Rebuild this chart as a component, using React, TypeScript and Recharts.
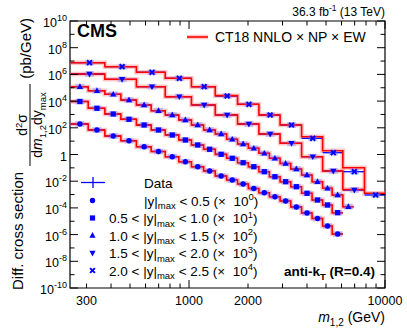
import React from 'react';
import { ComposedChart, Line, Scatter, XAxis, YAxis, ErrorBar, ReferenceArea } from 'recharts';

const FONT = '"Liberation Sans", Arial, Helvetica, sans-serif';
const W = 407;
const H = 331;
const PLOT = { left: 70, top: 21, right: 385, bottom: 288 };

// dijet mass bin edges (GeV)
const FINE_EDGES = [249, 306, 372, 449, 539, 641, 756, 887, 1029, 1187, 1361, 1556, 1769, 2008, 2273, 2572, 2915, 3306, 3754, 4244, 4805, 5374, 6094, 6908];
const WIDE_EDGES = [249, 372, 539, 756, 1029, 1361, 1769, 2273, 2915, 3754, 4805, 6094, 7861, 10050];

// |y|max < 0.5 (x 10^0)
const DATA_Y0 = [193, 68.4, 24.3, 10.8, 3.84, 1.68, 0.684, 0.289, 0.122, 0.058, 0.0245, 0.0123, 0.0062, 0.00284, 0.00138, 6.9e-4, 3.29e-4, 1.17e-4, 4.15e-5, 1.61e-5, 4.4e-6, 1.11e-6];
const THEORY_Y0 = [193, 68.4, 24.3, 10.8, 3.84, 1.68, 0.684, 0.289, 0.122, 0.058, 0.0245, 0.0123, 0.0062, 0.00284, 0.00138, 6.9e-4, 3.29e-4, 1.17e-4, 4.15e-5, 1.61e-5, 4.4e-6, 1.11e-6];
// 0.5 < |y|max < 1.0 (x 10^1)
const DATA_Y1 = [9330, 2890, 1080, 434, 162, 68.4, 28.9, 12.2, 5.15, 2.45, 1.03, 0.519, 0.243, 0.122, 0.0515, 0.0217, 0.00918, 0.00387, 0.00124, 3.91e-4, 1.65e-4, 4.37e-5];
const THEORY_Y1 = [9330, 2890, 1080, 434, 162, 68.4, 28.9, 12.2, 5.15, 2.45, 1.03, 0.519, 0.243, 0.122, 0.0515, 0.0217, 0.00918, 0.00387, 0.00124, 3.91e-4, 1.65e-4, 4.37e-5];
// 1.0 < |y|max < 1.5 (x 10^2)
const DATA_Y2 = [120000, 60100, 32300, 12100, 5100, 1910, 910, 384, 162, 68.4, 34.4, 13.8, 6.12, 2.91, 1.23, 0.519, 0.212, 0.082, 0.0291, 0.00918, 0.00294, 9.25e-4, 1.23e-4];
const THEORY_Y2 = [120000, 60100, 32300, 12100, 5100, 1910, 910, 384, 162, 68.4, 34.4, 13.8, 6.12, 2.91, 1.23, 0.519, 0.212, 0.082, 0.0291, 0.00918, 0.00294, 9.25e-4, 1.23e-4];
// 1.5 < |y|max < 2.0 (x 10^3)
const DATA_Y3 = [1.07e6, 4.3e5, 1.2e5, 21400, 5100, 910, 193, 34.4, 6.9, 0.684, 0.058, 0.00219];
const THEORY_Y3 = [1.07e6, 4.3e5, 1.2e5, 21400, 5100, 910, 193, 34.4, 6.9, 0.684, 0.058, 0.0024];
// 2.0 < |y|max < 2.5 (x 10^4)
const DATA_Y4 = [7.52e6, 3.78e6, 1.44e6, 5.1e5, 1.2e5, 24100, 5750, 910, 162, 16.3, 1.36, 0.0515, 9.25e-4];
const THEORY_Y4 = [7.52e6, 3.78e6, 1.44e6, 5.1e5, 1.2e5, 25500, 5750, 910, 162, 21.5, 1.93, 0.1026, 1.24e-3];

const X_TICKS = [300, 400, 500, 600, 700, 800, 900, 1000, 2000, 3000, 4000, 5000, 6000, 7000, 8000, 9000, 10000];
const X_LABELS: Record<number, string> = { 300: '300', 1000: '1000', 2000: '2000', 10000: '10000' };
const Y_EXPONENTS = [-10, -9, -8, -7, -6, -5, -4, -3, -2, -1, 0, 1, 2, 3, 4, 5, 6, 7, 8, 9, 10];
const Y_TICKS = Y_EXPONENTS.map((e) => Math.pow(10, e));

const SERIES = [
  { key: 'y0', edges: FINE_EDGES, data: DATA_Y0, theory: THEORY_Y0, marker: 'circle' },
  { key: 'y1', edges: FINE_EDGES, data: DATA_Y1, theory: THEORY_Y1, marker: 'square' },
  { key: 'y2', edges: FINE_EDGES, data: DATA_Y2, theory: THEORY_Y2, marker: 'up' },
  { key: 'y3', edges: WIDE_EDGES, data: DATA_Y3, theory: THEORY_Y3, marker: 'down' },
  { key: 'y4', edges: WIDE_EDGES, data: DATA_Y4, theory: THEORY_Y4, marker: 'cross' },
];

const BLUE = '#0000ff';
const RED = '#ff0000';
const BAND = '#ff8080';

function stepPoints(edges: number[], vals: number[]) {
  const pts = vals.map((v, i) => ({ m: edges[i], v }));
  pts.push({ m: edges[vals.length], v: vals[vals.length - 1] });
  return pts;
}

function dataPoints(edges: number[], vals: number[]) {
  return vals.map((v, i) => {
    const lo = edges[i];
    const hi = edges[i + 1];
    const c = (lo + hi) / 2;
    return { m: c, v, ex: [c - lo, hi - c] };
  });
}

function Marker({ kind, cx, cy, box }: { kind: string; cx: number; cy: number; box?: boolean }) {
  let shape: React.ReactNode = null;
  if (kind === 'circle') shape = <circle cx={cx} cy={cy} r={2.7} fill={BLUE} />;
  else if (kind === 'square') shape = <rect x={cx - 2.6} y={cy - 2.6} width={5.2} height={5.2} fill={BLUE} />;
  else if (kind === 'up')
    shape = <polygon points={`${cx},${cy - 3.4} ${cx - 3.1},${cy + 2.2} ${cx + 3.1},${cy + 2.2}`} fill={BLUE} />;
  else if (kind === 'down')
    shape = <polygon points={`${cx},${cy + 3.4} ${cx - 3.1},${cy - 2.2} ${cx + 3.1},${cy - 2.2}`} fill={BLUE} />;
  else
    shape = (
      <g stroke={BLUE} strokeWidth={2}>
        <line x1={cx - 2.4} y1={cy - 2.4} x2={cx + 2.4} y2={cy + 2.4} />
        <line x1={cx - 2.4} y1={cy + 2.4} x2={cx + 2.4} y2={cy - 2.4} />
      </g>
    );
  return (
    <g>
      {box && <rect x={cx - 4.5} y={cy - 3} width={9} height={6} fill="#7070ff" fillOpacity={0.35} />}
      {shape}
    </g>
  );
}

const XTick = (props: any) => {
  const { x, payload } = props;
  const v = payload.value;
  const major = v === 1000 || v === 10000;
  const len = major ? 8 : 4.5;
  const label = X_LABELS[v];
  return (
    <g>
      <line x1={x} x2={x} y1={PLOT.bottom} y2={PLOT.bottom - len} stroke="#000" />
      <line x1={x} x2={x} y1={PLOT.top} y2={PLOT.top + len} stroke="#000" />
      {label && (
        <text x={x} y={PLOT.bottom + 17} textAnchor="middle" fontSize={12.5} fontFamily={FONT} fill="#000">
          {label}
        </text>
      )}
    </g>
  );
};

const YTick = (props: any) => {
  const { y, payload } = props;
  const e = Math.round(Math.log10(payload.value));
  const major = e % 2 === 0;
  const len = major ? 8 : 4.5;
  return (
    <g>
      <line x1={PLOT.left} x2={PLOT.left + len} y1={y} y2={y} stroke="#000" />
      <line x1={PLOT.right} x2={PLOT.right - len} y1={y} y2={y} stroke="#000" />
      {major && (
        <text x={PLOT.left - 3} y={y + 6} textAnchor="end" fontSize={12.5} fontFamily={FONT} fill="#000">
          {e === 0 ? (
            '1'
          ) : (
            <>
              10
              <tspan dy={-6} fontSize={9}>
                {e < 0 ? `-${-e}` : String(e)}
              </tspan>
            </>
          )}
        </text>
      )}
    </g>
  );
};

const LEGEND_ROWS = [182.5, 200.5, 218, 235.5, 253, 270.5];
const LEGEND_RANGES = [
  { lo: '', hi: '0.5', pow: '0', kind: 'circle' },
  { lo: '0.5', hi: '1.0', pow: '1', kind: 'square' },
  { lo: '1.0', hi: '1.5', pow: '2', kind: 'up' },
  { lo: '1.5', hi: '2.0', pow: '3', kind: 'down' },
  { lo: '2.0', hi: '2.5', pow: '4', kind: 'cross' },
];

export default function App() {
  const txt = { fontFamily: FONT, fill: '#000', style: { whiteSpace: 'pre' as const } };
  return (
    <div style={{ width: W, height: H }}>
      <style>{'body{margin:0}'}</style>
      <ComposedChart width={W} height={H} margin={{ top: PLOT.top, right: W - PLOT.right, bottom: 0, left: 0 }}>
        <XAxis
          dataKey="m"
          type="number"
          scale="log"
          domain={[247, 10000]}
          allowDataOverflow
          ticks={X_TICKS}
          interval={0}
          tick={XTick}
          tickLine={false}
          axisLine={false}
          height={H - PLOT.bottom}
        />
        <YAxis
          dataKey="v"
          type="number"
          scale="log"
          domain={[1e-10, 1e10]}
          allowDataOverflow
          ticks={Y_TICKS}
          interval={0}
          tick={YTick}
          tickLine={false}
          axisLine={false}
          width={PLOT.left}
        />
        {SERIES.map((s) => (
          <Line
            key={`band-${s.key}`}
            data={stepPoints(s.edges, s.theory)}
            dataKey="v"
            type="stepAfter"
            stroke={BAND}
            strokeOpacity={0.45}
            strokeWidth={4.5}
            dot={false}
            activeDot={false}
            isAnimationActive={false}
          />
        ))}
        {SERIES.map((s) => (
          <Scatter
            key={`err-${s.key}`}
            data={dataPoints(s.edges, s.data)}
            dataKey="v"
            shape={() => <g />}
            isAnimationActive={false}
          >
            <ErrorBar dataKey="ex" direction="x" width={0} stroke={BLUE} strokeWidth={1.3} isAnimationActive={false} />
          </Scatter>
        ))}
        {SERIES.map((s) => (
          <Line
            key={`line-${s.key}`}
            data={stepPoints(s.edges, s.theory)}
            dataKey="v"
            type="stepAfter"
            stroke={RED}
            strokeWidth={1.6}
            dot={false}
            activeDot={false}
            isAnimationActive={false}
          />
        ))}
        {SERIES.map((s) => (
          <Scatter
            key={`pt-${s.key}`}
            data={dataPoints(s.edges, s.data)}
            dataKey="v"
            shape={(p: any) => <Marker kind={s.marker} cx={p.cx} cy={p.cy} box />}
            isAnimationActive={false}
          />
        ))}
        <ReferenceArea x1={247} x2={10000} y1={1e-10} y2={1e10} fill="none" stroke="#000" strokeWidth={1.2} ifOverflow="visible" />

        {/* top-right lumi text */}
        <text x={PLOT.right} y={16} textAnchor="end" fontSize={12} {...txt}>
          36.3 fb<tspan dy={-5} fontSize={8.5}>-1</tspan>
          <tspan dy={5}> (13 TeV)</tspan>
        </text>
        <text x={77} y={37} fontSize={18} fontWeight="bold" {...txt}>
          CMS
        </text>
        {/* theory legend */}
        <rect x={187} y={34.75} width={21} height={4.5} fill={BAND} fillOpacity={0.45} />
        <line x1={187} x2={208} y1={37} y2={37} stroke={RED} strokeWidth={1.6} />
        <text x={215} y={42} fontSize={14} {...txt}>
          CT18 NNLO × NP × EW
        </text>

        {/* data legend */}
        <line x1={81} x2={105} y1={LEGEND_ROWS[0]} y2={LEGEND_ROWS[0]} stroke={BLUE} strokeWidth={1.3} />
        <line x1={93} x2={93} y1={LEGEND_ROWS[0] - 5.5} y2={LEGEND_ROWS[0] + 5.5} stroke={BLUE} strokeWidth={1.3} />
        <text x={144} y={LEGEND_ROWS[0] + 5} fontSize={13.5} {...txt}>
          Data
        </text>
        {LEGEND_RANGES.map((r, i) => {
          const cy = LEGEND_ROWS[i + 1];
          return (
            <g key={r.kind}>
              <Marker kind={r.kind} cx={92.5} cy={cy} />
              <text x={r.lo ? 109 : 144} y={cy + 5} fontSize={13.5} {...txt}>
                {r.lo ? `${r.lo} < ` : ''}|y|
                <tspan dy={3.5} fontSize={9.5}>max</tspan>
                <tspan dy={-3.5}>{` < ${r.hi} (×  10`}</tspan>
                <tspan dy={-5.5} fontSize={9.5}>{r.pow}</tspan>
                <tspan dy={5.5}>)</tspan>
              </text>
            </g>
          );
        })}
        <text x={375} y={276} textAnchor="end" fontSize={13.5} fontWeight="bold" {...txt}>
          anti-k<tspan dy={3.5} fontSize={9.5}>T</tspan>
          <tspan dy={-3.5}> (R=0.4)</tspan>
        </text>

        {/* x title */}
        <text x={PLOT.right} y={322} textAnchor="end" fontSize={14} {...txt}>
          <tspan fontStyle="italic">m</tspan>
          <tspan dy={3.5} fontSize={10}>1,2</tspan>
          <tspan dy={-3.5}> (GeV)</tspan>
        </text>

        {/* y title */}
        <text transform="translate(23,290) rotate(-90)" fontSize={15} {...txt}>
          Diff. cross section
        </text>
        <text transform="translate(27,125) rotate(-90)" textAnchor="middle" fontSize={14} {...txt}>
          d<tspan dy={-5} fontSize={9.5}>2</tspan>
          <tspan dy={5}>σ</tspan>
        </text>
        <line x1={30} x2={30} y1={84} y2={166} stroke="#000" strokeWidth={1} />
        <text transform="translate(42,125) rotate(-90)" textAnchor="middle" fontSize={14} {...txt}>
          d<tspan fontStyle="italic">m</tspan>
          <tspan dy={3.5} fontSize={9.5}>1,2</tspan>
          <tspan dy={-3.5}>dy</tspan>
          <tspan dy={3.5} fontSize={9.5}>max</tspan>
        </text>
        <text transform="translate(31,18) rotate(-90)" textAnchor="end" fontSize={15} {...txt}>
          (pb/GeV)
        </text>
      </ComposedChart>
    </div>
  );
}
